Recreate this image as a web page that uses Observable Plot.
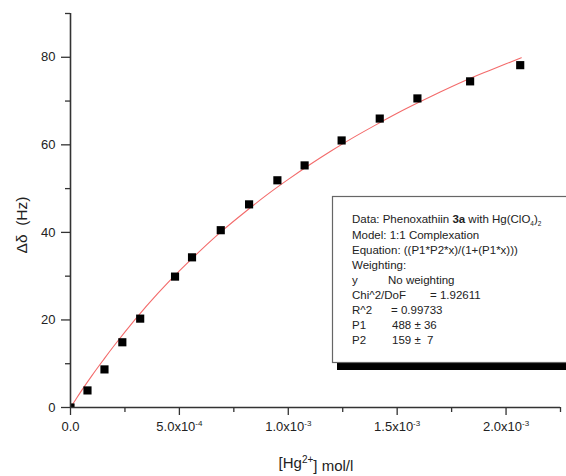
<!DOCTYPE html>
<html><head><meta charset="utf-8">
<script src="https://cdn.jsdelivr.net/npm/d3@7"></script>
<script src="https://cdn.jsdelivr.net/npm/@observablehq/plot@0.6"></script>
<style>body{margin:0;background:#fff} svg{display:block}</style>
</head><body><div id="chart"></div>
<script>
// Measured data: [Hg2+] (mol/l) vs chemical shift change (Hz)
const concX = [0, 0.78e-4, 1.56e-4, 2.38e-4, 3.2e-4, 4.8e-4, 5.58e-4, 6.9e-4, 8.2e-4, 9.5e-4, 10.75e-4, 12.45e-4, 14.2e-4, 15.93e-4, 18.35e-4, 20.65e-4];
const shiftHz = [0, 3.9, 8.7, 14.9, 20.3, 29.9, 34.3, 40.5, 46.4, 51.9, 55.3, 61.0, 66.0, 70.6, 74.5, 78.2];
// Fitted curve
const fitX = [0, 0.25e-4, 0.5e-4, 1e-4, 1.5e-4, 2e-4, 3e-4, 4e-4, 5e-4, 6e-4, 7e-4, 8e-4, 9e-4, 10e-4, 11e-4, 12e-4, 13e-4, 14e-4, 15e-4, 16e-4, 17e-4, 18e-4, 19e-4, 20e-4, 20.7e-4];
const fitY = [0, 1.9, 3.8, 7.4, 10.8, 14.1, 20.3, 26.0, 31.2, 36.0, 40.5, 44.6, 48.5, 52.1, 55.5, 58.7, 61.7, 64.5, 67.2, 69.7, 72.1, 74.4, 76.5, 78.5, 79.9];
// Ticks
const xMajorTicks = [0, 5e-4, 1e-3, 1.5e-3, 2e-3];
const xTickLabels = ["0.0", "5.0x10^-4", "1.0x10^-3", "1.5x10^-3", "2.0x10^-3"];
const xMinorTicks = [2.5e-4, 7.5e-4, 1.25e-3, 1.75e-3, 2.25e-3];
const yMajorTicks = [0, 20, 40, 60, 80];
const yMinorTicks = [10, 30, 50, 70, 90];
// Legend text
const legendTitle = ["Data: Phenoxathiin ", "3a", " with Hg(ClO", "4", ")", "2"];
const legendRows = [
  ["Model: 1:1 Complexation", ""],
  ["Equation: ((P1*P2*x)/(1+(P1*x)))", ""],
  ["Weighting:", ""],
  ["y", "No weighting"],
  ["Chi^2/DoF", "= 1.92611"],
  ["R^2", "= 0.99733"],
  ["P1", "488 \u00b1 36"],
  ["P2", "159 \u00b1  7"]
];
const legendCol2 = [0, 0, 0, 36, 78, 39, 40, 40];

const FONT = "'Liberation Sans', Arial, Helvetica, sans-serif";
const points = concX.map((x, i) => ({x, y: shiftHz[i]}));
const fit = fitX.map((x, i) => ({x, y: fitY[i]}));

const svg = Plot.plot({
  width: 566, height: 476,
  marginLeft: 70, marginRight: 6, marginTop: 13, marginBottom: 69,
  x: {domain: [0, 2.25e-3]},
  y: {domain: [0, 90]},
  style: {fontFamily: FONT, fontSize: "13px", color: "#222", background: "#fff"},
  marks: [
    Plot.axisX({ticks: xMajorTicks, tickSize: 8, tickPadding: 6, tickFormat: (d, i) => xTickLabels[i], label: null, stroke: "#333", strokeWidth: 1.3}),
    Plot.axisX({ticks: xMinorTicks, tickSize: 5, tickFormat: () => "", label: null, stroke: "#333", strokeWidth: 1.3}),
    Plot.axisY({ticks: yMajorTicks, tickSize: 9, tickPadding: 6, label: null, stroke: "#333", strokeWidth: 1.3}),
    Plot.axisY({ticks: yMinorTicks, tickSize: 5, tickFormat: () => "", label: null, stroke: "#333", strokeWidth: 1.3}),
    Plot.line(fit, {x: "x", y: "y", stroke: "#f36b6b", strokeWidth: 1.1, curve: "natural"}),
    Plot.dot(points, {x: "x", y: "y", symbol: "square", r: 4.6, fill: "#000", stroke: "none", clip: true}),
    Plot.ruleX([0], {stroke: "#333", strokeWidth: 1.6}),
    Plot.ruleY([0], {stroke: "#333", strokeWidth: 1.6})
  ]
});
document.getElementById("chart").appendChild(svg);

const root = d3.select(svg);
// superscripts in tick labels
root.selectAll("text").each(function() {
  const t = this.textContent;
  if (t.includes("^")) {
    const [base, sup] = t.split("^");
    const el = d3.select(this);
    el.text(null);
    el.append("tspan").text(base);
    el.append("tspan").attr("dy", "-0.55em").attr("font-size", "8px").text(sup);
  }
});

// axis titles
const xt = root.append("text").attr("x", 316).attr("y", 468).attr("text-anchor", "middle")
  .attr("font-family", FONT).attr("font-size", "15px").attr("fill", "#222");
xt.append("tspan").text("[Hg");
xt.append("tspan").attr("dy", "-0.5em").attr("font-size", "10px").text("2+");
xt.append("tspan").attr("dy", "0.5em").text("] mol/l");

root.append("text").attr("transform", "translate(27,225) rotate(-90)").attr("text-anchor", "middle")
  .attr("font-family", FONT).attr("font-size", "15.5px").attr("fill", "#222")
  .style("white-space", "pre").text("\u0394\u03b4  (Hz)");

// legend box
const lg = root.append("g").attr("font-family", FONT).attr("font-size", "11.5px").attr("fill", "#222").attr("text-anchor", "start");
lg.append("rect").attr("x", 337).attr("y", 362.5).attr("width", 240).attr("height", 7.5).attr("fill", "#000");
lg.append("rect").attr("x", 332.5).attr("y", 196.5).attr("width", 250).attr("height", 166).attr("fill", "#fff").attr("stroke", "#666").attr("stroke-width", 1.2);
const lx = 352;
const t0 = lg.append("text").attr("x", lx).attr("y", 223);
t0.append("tspan").text(legendTitle[0]);
t0.append("tspan").attr("font-weight", "bold").text(legendTitle[1]);
t0.append("tspan").text(legendTitle[2]);
t0.append("tspan").attr("dy", "3").attr("font-size", "6.5px").text(legendTitle[3]);
t0.append("tspan").attr("dy", "-3").text(legendTitle[4]);
t0.append("tspan").attr("dy", "3").attr("font-size", "6.5px").text(legendTitle[5]);
const rowY = [238.5, 253.5, 268.5, 283.5, 298.5, 314, 329, 344];
legendRows.forEach((r, i) => {
  lg.append("text").attr("x", lx).attr("y", rowY[i]).text(r[0]);
  if (r[1]) lg.append("text").attr("x", lx + legendCol2[i]).attr("y", rowY[i]).style("white-space", "pre").text(r[1]);
});
</script>
</body></html>
